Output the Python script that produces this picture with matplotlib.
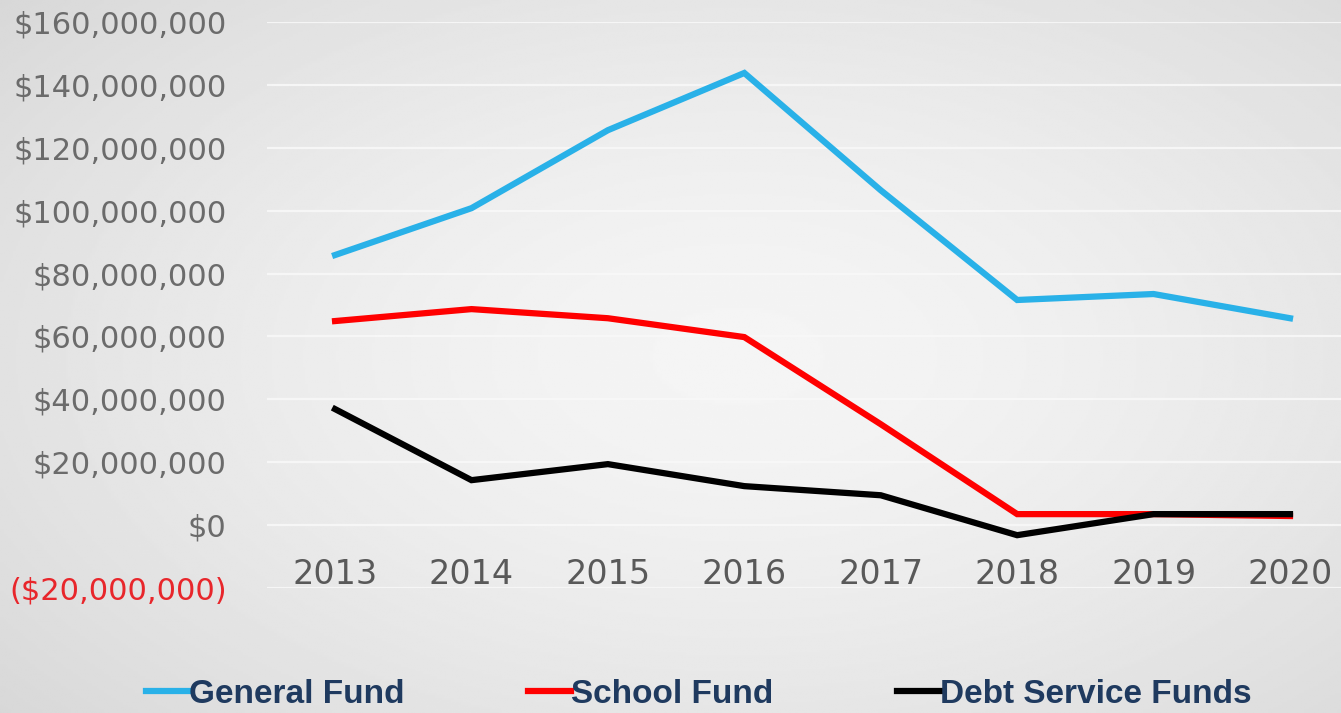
import numpy as np
import matplotlib
matplotlib.use("Agg")
import matplotlib.pyplot as plt
from matplotlib.ticker import FuncFormatter

years = ["2013", "2014", "2015", "2016", "2017", "2018", "2019", "2020"]
general_fund = [85.9, 100.8, 125.6, 143.8, 106.5, 71.6, 73.5, 65.8]   # millions
school_fund = [64.9, 68.7, 65.8, 59.8, 32.1, 3.5, 3.5, 2.9]
debt_service = [36.9, 14.3, 19.4, 12.4, 9.5, -3.2, 3.5, 3.5]
y_ticks = [-20, 0, 20, 40, 60, 80, 100, 120, 140, 160]

def money(v, pos=None):
    if v < 0:
        return "(${:,.0f})".format(-v * 1e6)
    return "${:,.0f}".format(v * 1e6)

fig = plt.figure(figsize=(13.41, 7.13), dpi=100)

# gradient background
bg = fig.add_axes([0, 0, 1, 1], zorder=-10)
yy, xx = np.mgrid[0:1:300j, 0:1:560j]
r = np.sqrt(((xx - 0.55) / 0.75) ** 2 + ((yy - 0.5) / 0.8) ** 2)
shade = 0.96 - 0.12 * np.clip(r, 0, 1.2) ** 1.5
bg.imshow(shade, cmap="gray", vmin=0, vmax=1, aspect="auto", extent=[0, 1, 0, 1])
bg.axis("off")

ax = fig.add_axes([0.199, 0.1753, 0.801, 0.7938])
ax.patch.set_alpha(0)
x = np.arange(len(years))
ax.plot(x, general_fund, color="#29B1E8", lw=4.5, solid_joinstyle="miter", clip_on=False, zorder=3)
ax.plot(x, school_fund, color="#FF0000", lw=4.5, solid_joinstyle="miter", clip_on=False, zorder=3)
ax.plot(x, debt_service, color="#000000", lw=4.5, solid_joinstyle="miter", clip_on=False, zorder=4)

ax.set_xlim(-0.5, 7.374)
ax.set_ylim(-20, 160)
ax.set_yticks(y_ticks)
ax.yaxis.set_major_formatter(FuncFormatter(money))
ax.grid(axis="y", color="#f8f8f8", lw=1.6, alpha=0.9)
ax.set_axisbelow(True)
for s in ax.spines.values():
    s.set_visible(False)

ax.set_xticks(x)
ax.set_xticklabels(years)
ax.spines["bottom"].set_position(("data", 0))
ax.tick_params(axis="x", length=0, pad=24, labelsize=24, labelcolor="#595959")
ax.tick_params(axis="y", length=0, pad=29, labelsize=22, labelcolor="#6b6b6b")
for lab in ax.get_xticklabels():
    lab.set_fontfamily("DejaVu Sans")
for lab, v in zip(ax.get_yticklabels(), y_ticks):
    lab.set_fontfamily("DejaVu Sans")
    if v < 0:
        lab.set_color("#E8262B")

handles = ax.get_lines()
leg = fig.legend(handles, ["General Fund", "School Fund", "Debt Service Funds"],
                 loc="center", bbox_to_anchor=(0.521, 0.026), ncol=3, frameon=False,
                 handlelength=1.3, handletextpad=0.0, columnspacing=3.7,
                 prop={"family": "Liberation Sans", "weight": "bold", "size": 24})
for t in leg.get_texts():
    t.set_color("#1F3A5F")

fig.savefig("out.png", dpi=100)
